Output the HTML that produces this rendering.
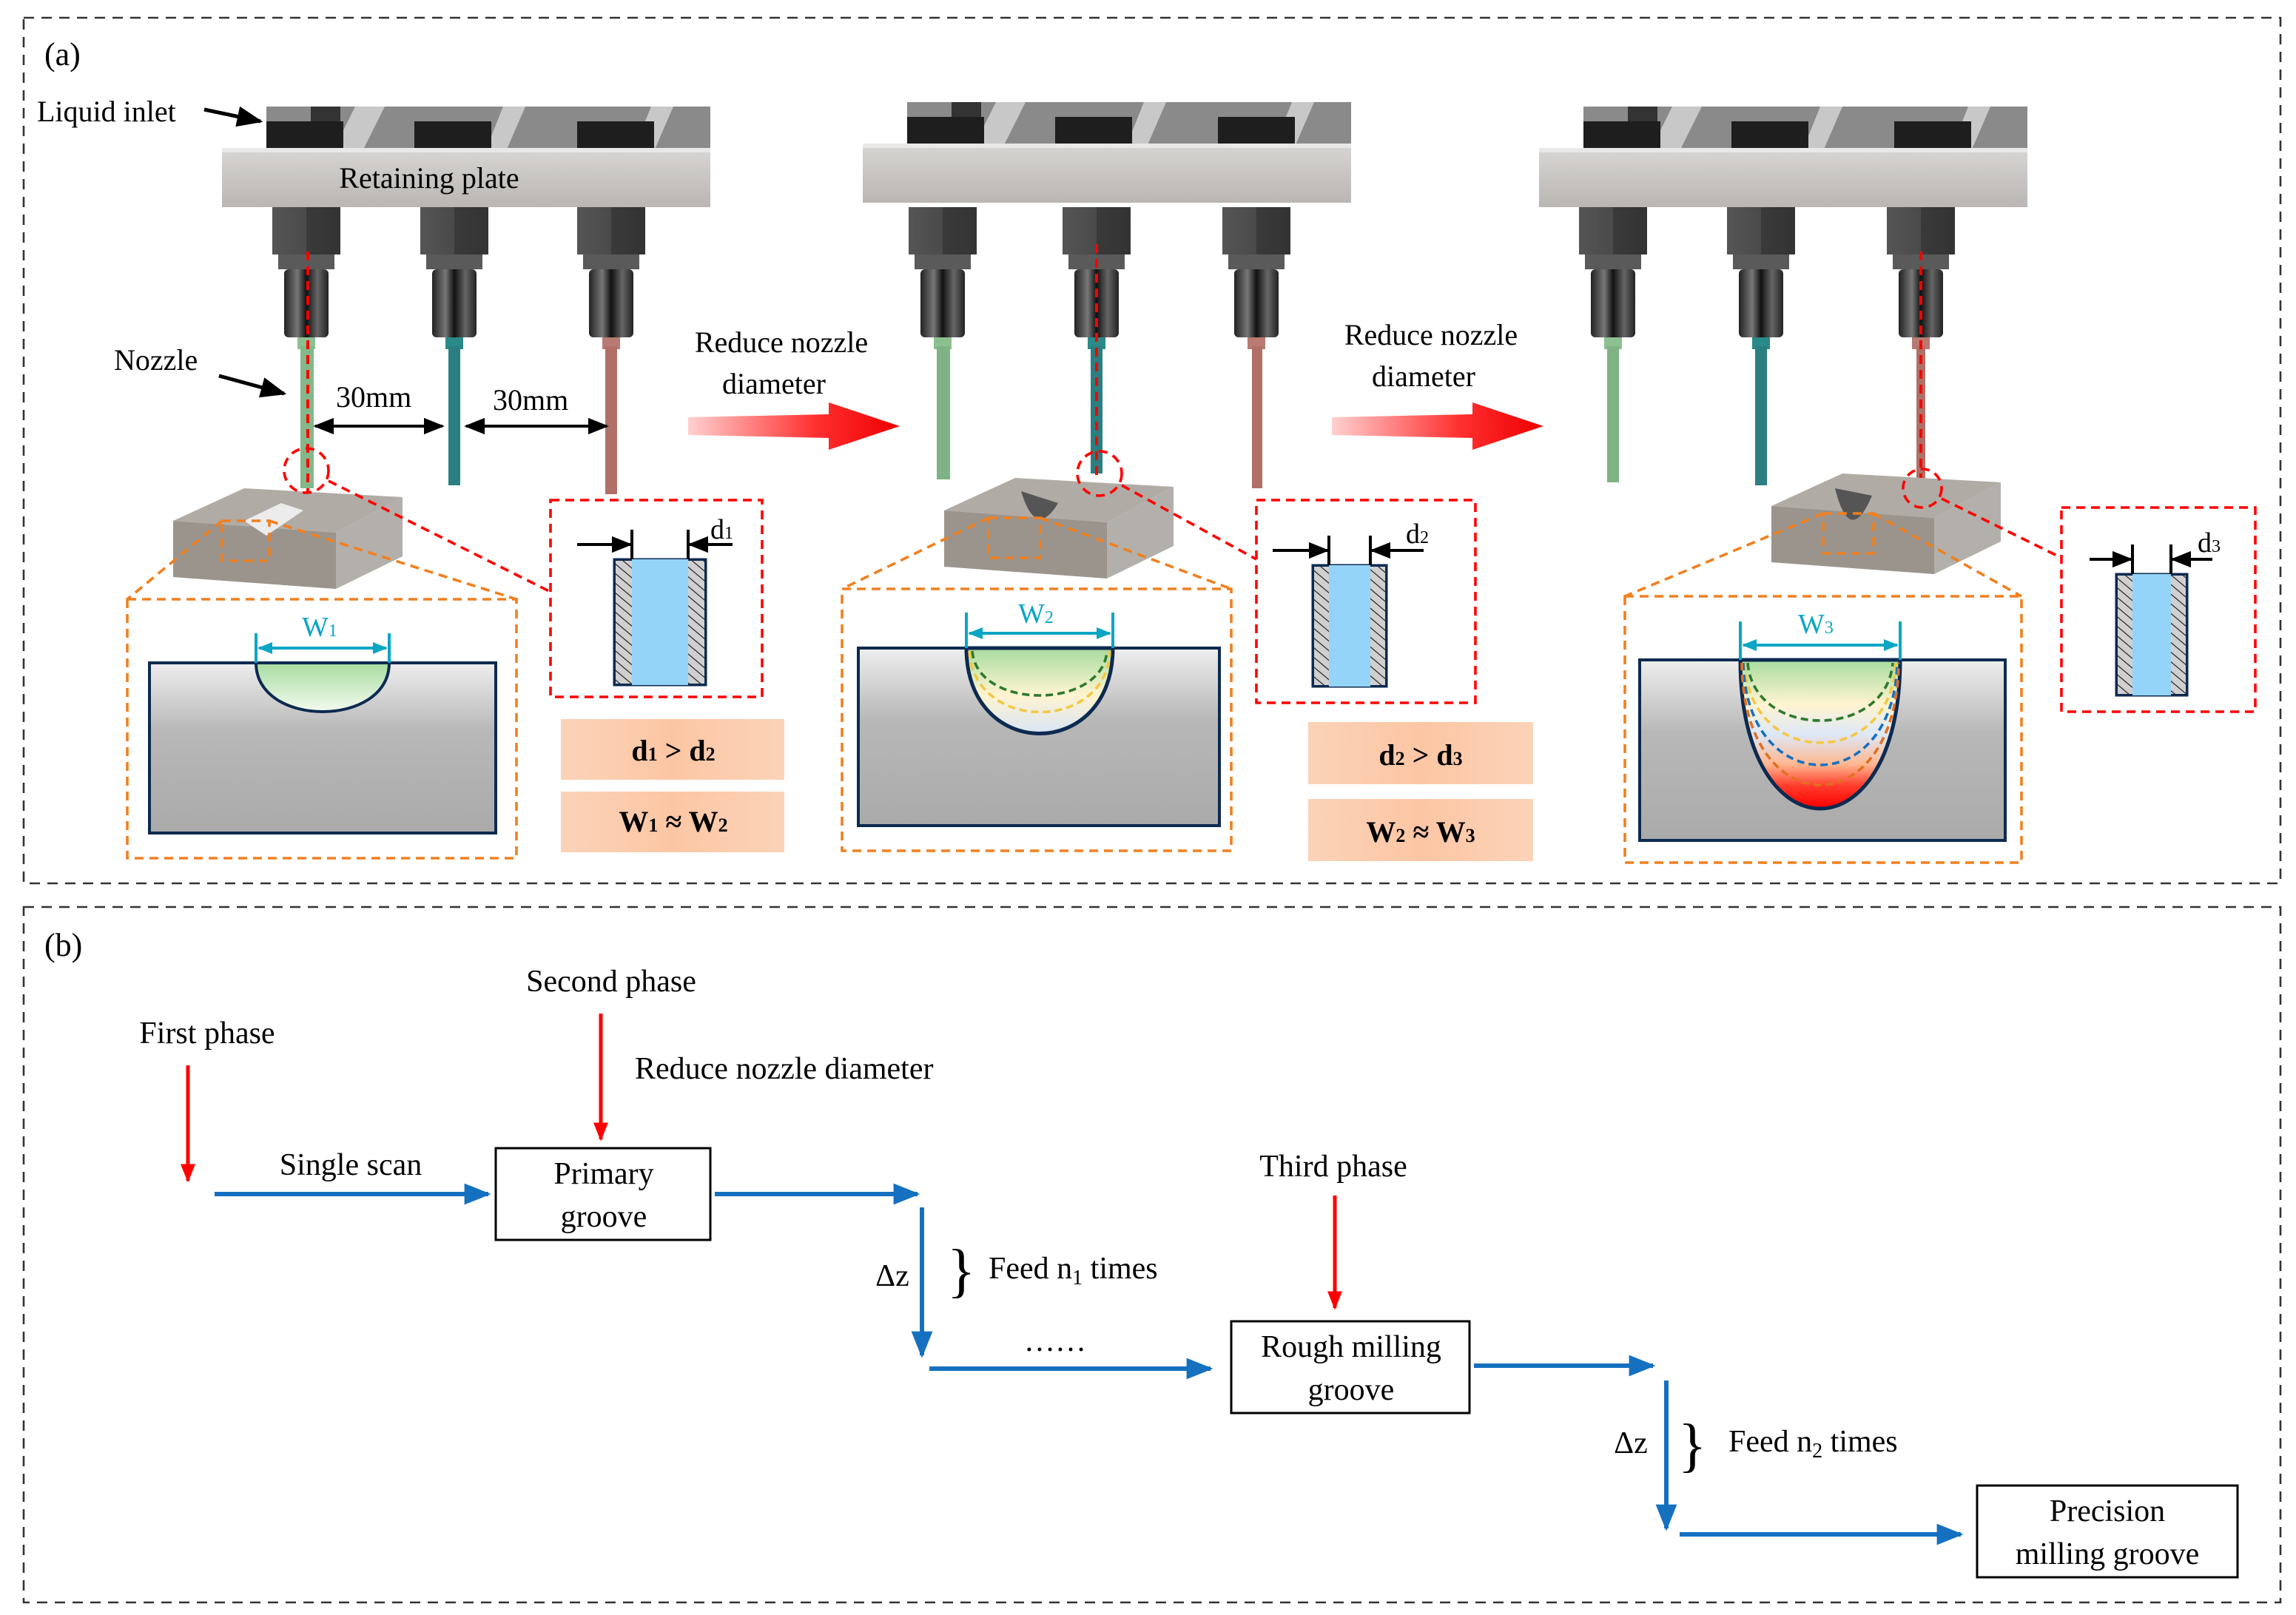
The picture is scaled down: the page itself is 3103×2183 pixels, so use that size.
<!DOCTYPE html>
<html><head><meta charset="utf-8"><style>html,body{margin:0;padding:0;background:#fff}svg{display:block}svg text{font-family:"Liberation Serif","DejaVu Serif",serif}</style></head>
<body>
<svg width="3103" height="2183" viewBox="0 0 1551.5 1091.5" xmlns="http://www.w3.org/2000/svg" style="font-family:'Liberation Serif',serif">
<defs>
<linearGradient id="plate" x1="0" y1="0" x2="0" y2="1"><stop offset="0" stop-color="#d8d6d4"/><stop offset="1" stop-color="#b9b6b3"/></linearGradient>
<linearGradient id="knurl" x1="0" y1="0" x2="1" y2="0"><stop offset="0" stop-color="#222"/><stop offset="0.3" stop-color="#777"/><stop offset="0.5" stop-color="#111"/><stop offset="0.75" stop-color="#666"/><stop offset="1" stop-color="#222"/></linearGradient>
<linearGradient id="hex" x1="0" y1="0" x2="1" y2="0"><stop offset="0" stop-color="#555"/><stop offset="0.5" stop-color="#4a4a4a"/><stop offset="0.5" stop-color="#3a3a3a"/><stop offset="1" stop-color="#333"/></linearGradient>
<linearGradient id="redarrow" x1="0" y1="0" x2="1" y2="0"><stop offset="0" stop-color="#ffd0d0"/><stop offset="0.6" stop-color="#ff3030"/><stop offset="1" stop-color="#ee0000"/></linearGradient>
<linearGradient id="graybox" x1="0" y1="0" x2="0" y2="1"><stop offset="0" stop-color="#eeeeee"/><stop offset="0.4" stop-color="#b8b8b8"/><stop offset="1" stop-color="#aaaaaa"/></linearGradient>
<linearGradient id="green" x1="0" y1="0" x2="0" y2="1"><stop offset="0" stop-color="#a8dca0"/><stop offset="1" stop-color="#f3faf0"/></linearGradient>
<linearGradient id="g3" x1="0" y1="0" x2="0" y2="1"><stop offset="0" stop-color="#a8dca0"/><stop offset="0.3" stop-color="#fff4d0"/><stop offset="0.5" stop-color="#dde8f8"/><stop offset="0.7" stop-color="#ffb890"/><stop offset="0.85" stop-color="#ff3a2a"/><stop offset="1" stop-color="#ff0000"/></linearGradient>
<linearGradient id="g2" x1="0" y1="0" x2="0" y2="1"><stop offset="0" stop-color="#a8dca0"/><stop offset="0.55" stop-color="#fff4d0"/><stop offset="1" stop-color="#d8e4f6"/></linearGradient>
<linearGradient id="peach" x1="0" y1="0" x2="1" y2="0"><stop offset="0" stop-color="#fbd3b8"/><stop offset="0.5" stop-color="#fcc6a4"/><stop offset="1" stop-color="#fbd3b8"/></linearGradient>
<pattern id="hatch" width="5" height="5" patternUnits="userSpaceOnUse" patternTransform="rotate(-50)"><rect width="5" height="5" fill="#d0d0d0"/><line x1="0" y1="0" x2="0" y2="5" stroke="#222" stroke-width="1.2"/></pattern>
<marker id="ab" viewBox="0 0 10 10" refX="9" refY="5" markerWidth="7" markerHeight="7" orient="auto-start-reverse"><path d="M0,1 L10,5 L0,9 Z" fill="#000"/></marker>
<marker id="abl" viewBox="0 0 10 10" refX="9" refY="5" markerWidth="6" markerHeight="6" orient="auto"><path d="M0,1 L10,5 L0,9 Z" fill="#1570c0"/></marker>
<marker id="ar" viewBox="0 0 10 10" refX="9" refY="5" markerWidth="5" markerHeight="6" orient="auto"><path d="M0,1 L10,5 L0,9 Z" fill="#f00"/></marker>
<marker id="ac" viewBox="0 0 10 10" refX="9" refY="5" markerWidth="5" markerHeight="5" orient="auto-start-reverse"><path d="M0,1 L10,5 L0,9 Z" fill="#0aa6c4"/></marker>
<g id="noz">
<rect x="-23" y="140" width="46" height="32" fill="url(#hex)"/>
<rect x="-19" y="172" width="38" height="10" fill="#5a5a5a"/>
<rect x="-15" y="182" width="30" height="46" fill="url(#knurl)" rx="3"/>
</g>
<g id="top">
<rect x="30" y="72" width="300" height="30" fill="#8a8a8a"/>
<path d="M90,72 L110,72 L95,102 L75,102Z M190,72 L205,72 L192,102 L178,102Z M290,72 L305,72 L292,102 L278,102Z" fill="#c8c8c8"/>
<rect x="30" y="82" width="52" height="20" fill="#1e1e1e"/>
<rect x="60" y="72" width="20" height="10" fill="#333"/>
<rect x="130" y="82" width="52" height="20" fill="#1e1e1e"/>
<rect x="240" y="82" width="52" height="20" fill="#1e1e1e"/>
<rect x="0" y="100" width="330" height="40" fill="url(#plate)"/>
<rect x="0" y="100" width="330" height="3" fill="#e8e8e8"/>
</g>
<g id="block">
<path d="M0,22 L48,0 L155,6 L110,30 Z" fill="#b0aba5"/>
<path d="M0,22 L110,30 L110,68 L0,60 Z" fill="#9a948d"/>
<path d="M110,30 L155,6 L155,46 L110,68 Z" fill="#b3afaa"/>
</g>
</defs>
<rect width="1551.5" height="1091.5" fill="#fff"/>
<rect x="16" y="12" width="1525" height="585" fill="none" stroke="#333" stroke-width="1.3" stroke-dasharray="7,5"/>
<rect x="16" y="613" width="1525" height="470" fill="none" stroke="#333" stroke-width="1.3" stroke-dasharray="7,5"/>
<text x="30" y="44" font-size="22">(a)</text>
<text x="30" y="646" font-size="22">(b)</text>

<use href="#top" x="150"/>
<use href="#top" x="583" transform="translate(0,-3)"/>
<use href="#top" x="1040"/>
<use href="#noz" x="207"/><use href="#noz" x="307"/><use href="#noz" x="413"/>
<use href="#noz" x="637"/><use href="#noz" x="741"/><use href="#noz" x="849"/>
<use href="#noz" x="1090"/><use href="#noz" x="1190"/><use href="#noz" x="1298"/>
<g>
<rect x="201" y="228" width="12" height="8" fill="#8cc090"/><rect x="203" y="234" width="9" height="96" fill="#84b88a"/>
<rect x="301" y="228" width="12" height="8" fill="#2a8a8a"/><rect x="303" y="234" width="8" height="94" fill="#2b7f80"/>
<rect x="407" y="228" width="12" height="8" fill="#b87a72"/><rect x="409" y="234" width="8" height="100" fill="#b07068"/>
<rect x="631" y="228" width="12" height="8" fill="#8cc090"/><rect x="633" y="234" width="9" height="90" fill="#7fb285"/>
<rect x="735" y="228" width="12" height="8" fill="#2a8a8a"/><rect x="737" y="234" width="8" height="86" fill="#2b7f80"/>
<rect x="843" y="228" width="12" height="8" fill="#b87a72"/><rect x="846" y="234" width="7" height="96" fill="#b07068"/>
<rect x="1084" y="228" width="12" height="8" fill="#8cc090"/><rect x="1086" y="234" width="8" height="92" fill="#7fb285"/>
<rect x="1184" y="228" width="12" height="8" fill="#2a8a8a"/><rect x="1186" y="234" width="8" height="94" fill="#2b7f80"/>
<rect x="1292" y="228" width="12" height="8" fill="#b87a72"/><rect x="1295" y="234" width="6" height="92" fill="#b07068"/>
</g>
<g stroke="#f00" stroke-width="2" stroke-dasharray="6,4" fill="none">
<line x1="208" y1="170" x2="208" y2="335"/>
<line x1="741" y1="165" x2="741" y2="325"/>
<line x1="1298" y1="170" x2="1298" y2="335"/>
</g>
<text x="290" y="127" font-size="20" text-anchor="middle">Retaining plate</text>
<text x="25" y="82" font-size="20">Liquid inlet</text>
<line x1="138" y1="74" x2="176" y2="82" stroke="#000" stroke-width="2.5" marker-end="url(#ab)"/>
<text x="77" y="250" font-size="20">Nozzle</text>
<line x1="148" y1="254" x2="192" y2="266" stroke="#000" stroke-width="2.5" marker-end="url(#ab)"/>
<text x="227" y="275" font-size="20">30mm</text>
<text x="333" y="277" font-size="20">30mm</text>
<line x1="213" y1="288" x2="299" y2="288" stroke="#000" stroke-width="2" marker-start="url(#ab)" marker-end="url(#ab)"/>
<line x1="315" y1="288" x2="410" y2="288" stroke="#000" stroke-width="2" marker-start="url(#ab)" marker-end="url(#ab)"/>

<text x="528" y="238" font-size="20" text-anchor="middle">Reduce nozzle</text>
<text x="523" y="266" font-size="20" text-anchor="middle">diameter</text>
<path d="M465,282 L560,280 L560,272 L608,288 L560,304 L560,296 L465,294 Z" fill="url(#redarrow)"/>
<text x="967" y="233" font-size="20" text-anchor="middle">Reduce nozzle</text>
<text x="962" y="261" font-size="20" text-anchor="middle">diameter</text>
<path d="M900,282 L995,280 L995,272 L1043,288 L995,304 L995,296 L900,294 Z" fill="url(#redarrow)"/>

<use href="#block" x="117" y="330"/>
<use href="#block" x="638" y="323"/>
<use href="#block" x="1197" y="320"/>
<path d="M165,352 L190,340 L205,345 L180,362Z" fill="#ececec"/>
<path d="M690,332 Q700,365 715,340Z" fill="#555"/>
<path d="M1240,330 Q1250,370 1265,335Z" fill="#555"/>

<g fill="none" stroke="#f08020" stroke-width="1.8" stroke-dasharray="6,4">
<rect x="150" y="352" width="32" height="27"/>
<rect x="668" y="350" width="35" height="27"/>
<rect x="1232" y="347" width="34" height="27"/>
<line x1="150" y1="352" x2="86" y2="405"/><line x1="182" y1="352" x2="349" y2="405"/>
<line x1="668" y1="350" x2="569" y2="398"/><line x1="703" y1="350" x2="832" y2="398"/>
<line x1="1232" y1="347" x2="1098" y2="403"/><line x1="1266" y1="347" x2="1366" y2="403"/>
<rect x="86" y="405" width="263" height="175"/>
<rect x="569" y="398" width="263" height="177"/>
<rect x="1098" y="403" width="268" height="180"/>
</g>
<g fill="none" stroke="#f00" stroke-width="1.8" stroke-dasharray="6,4">
<circle cx="207" cy="318" r="15"/><circle cx="743" cy="320" r="15"/><circle cx="1299" cy="330" r="13"/>
<line x1="222" y1="325" x2="372" y2="400"/><line x1="758" y1="328" x2="849" y2="378"/><line x1="1312" y1="337" x2="1393" y2="377"/>
<rect x="372" y="338" width="143" height="133"/>
<rect x="849" y="338" width="148" height="137"/>
<rect x="1393" y="343" width="131" height="138"/>
</g>
<g stroke="#0d2a50" stroke-width="1.5">
<rect x="415" y="378" width="62" height="85" fill="#0d2a50"/>
<rect x="416" y="379" width="11" height="83" fill="url(#hatch)" stroke="none"/><rect x="465" y="379" width="11" height="83" fill="url(#hatch)" stroke="none"/>
<rect x="427" y="378" width="38" height="85" fill="#94d4f8" stroke="none"/>
<rect x="887" y="382" width="50" height="82" fill="#0d2a50"/>
<rect x="888" y="383" width="10" height="80" fill="url(#hatch)" stroke="none"/><rect x="926" y="383" width="10" height="80" fill="url(#hatch)" stroke="none"/>
<rect x="898" y="382" width="28" height="82" fill="#94d4f8" stroke="none"/>
<rect x="1430" y="388" width="48" height="82" fill="#0d2a50"/>
<rect x="1431" y="389" width="10" height="80" fill="url(#hatch)" stroke="none"/><rect x="1467" y="389" width="10" height="80" fill="url(#hatch)" stroke="none"/>
<rect x="1441" y="388" width="26" height="82" fill="#94d4f8" stroke="none"/>
</g>
<g stroke="#000" stroke-width="2">
<line x1="427" y1="358" x2="427" y2="378"/><line x1="465" y1="358" x2="465" y2="378"/>
<line x1="390" y1="368" x2="426" y2="368" marker-end="url(#ab)"/><line x1="495" y1="368" x2="466" y2="368" marker-end="url(#ab)"/>
<line x1="898" y1="362" x2="898" y2="382"/><line x1="926" y1="362" x2="926" y2="382"/>
<line x1="860" y1="372" x2="897" y2="372" marker-end="url(#ab)"/><line x1="962" y1="372" x2="927" y2="372" marker-end="url(#ab)"/>
<line x1="1441" y1="368" x2="1441" y2="388"/><line x1="1467" y1="368" x2="1467" y2="388"/>
<line x1="1412" y1="378" x2="1440" y2="378" marker-end="url(#ab)"/><line x1="1495" y1="378" x2="1468" y2="378" marker-end="url(#ab)"/>
</g>
<text x="480" y="364" font-size="19">d<tspan font-size="12">1</tspan></text>
<text x="950" y="367" font-size="19">d<tspan font-size="12">2</tspan></text>
<text x="1485" y="373" font-size="19">d<tspan font-size="12">3</tspan></text>

<rect x="379" y="486" width="151" height="41" fill="url(#peach)"/>
<rect x="379" y="535" width="151" height="41" fill="url(#peach)"/>
<rect x="884" y="488" width="152" height="42" fill="url(#peach)"/>
<rect x="884" y="540" width="152" height="42" fill="url(#peach)"/>
<g font-size="20" font-weight="bold" text-anchor="middle">
<text x="455" y="514">d<tspan font-size="13">1</tspan> &gt; d<tspan font-size="13">2</tspan></text>
<text x="455" y="562">W<tspan font-size="13">1</tspan> ≈ W<tspan font-size="13">2</tspan></text>
<text x="960" y="517">d<tspan font-size="13">2</tspan> &gt; d<tspan font-size="13">3</tspan></text>
<text x="960" y="569">W<tspan font-size="13">2</tspan> ≈ W<tspan font-size="13">3</tspan></text>
</g>

<rect x="101" y="448" width="234" height="115" fill="url(#graybox)" stroke="#0d2a50" stroke-width="2"/>
<path d="M173,448 C173,492 263,492 263,448 Z" fill="url(#green)" stroke="#0d2a50" stroke-width="2"/>
<rect x="580" y="438" width="244" height="120" fill="url(#graybox)" stroke="#0d2a50" stroke-width="2"/>
<path d="M653,438 C653,515 752,515 752,438 Z" fill="url(#g2)" stroke="#0d2a50" stroke-width="2.5"/>
<path d="M657,440 C660,480 745,480 748,440" fill="none" stroke="#2d7a2d" stroke-width="1.8" stroke-dasharray="5,3"/>
<path d="M655,440 C658,495 748,495 750,440" fill="none" stroke="#f5c842" stroke-width="1.8" stroke-dasharray="5,3"/>
<rect x="1108" y="446" width="247" height="122" fill="url(#graybox)" stroke="#0d2a50" stroke-width="2"/>
<path d="M1176,446 C1176,580 1284,580 1284,446 Z" fill="url(#g3)" stroke="#0d2a50" stroke-width="2.5"/>
<g fill="none" stroke-width="1.8" stroke-dasharray="5,3">
<path d="M1181,448 C1185,500 1275,500 1279,448" stroke="#2d7a2d"/>
<path d="M1179,448 C1182,520 1278,520 1281,448" stroke="#f5c842"/>
<path d="M1178,448 C1180,540 1280,540 1282,448" stroke="#1570c0"/>
<path d="M1177,448 C1178,558 1282,558 1283,448" stroke="#e07020"/>
</g>
<g stroke="#0aa6c4" stroke-width="2">
<line x1="173" y1="428" x2="173" y2="448"/><line x1="263" y1="428" x2="263" y2="448"/>
<line x1="175" y1="438" x2="261" y2="438" marker-start="url(#ac)" marker-end="url(#ac)"/>
<line x1="653" y1="414" x2="653" y2="438"/><line x1="752" y1="414" x2="752" y2="438"/>
<line x1="655" y1="428" x2="750" y2="428" marker-start="url(#ac)" marker-end="url(#ac)"/>
<line x1="1176" y1="420" x2="1176" y2="446"/><line x1="1284" y1="420" x2="1284" y2="446"/>
<line x1="1178" y1="436" x2="1282" y2="436" marker-start="url(#ac)" marker-end="url(#ac)"/>
</g>
<g fill="#0aa6c4" font-size="19">
<text x="204" y="430">W<tspan font-size="12">1</tspan></text>
<text x="688" y="421">W<tspan font-size="12">2</tspan></text>
<text x="1215" y="428">W<tspan font-size="12">3</tspan></text>
</g>

<g font-size="21">
<text x="140" y="705" text-anchor="middle">First phase</text>
<text x="413" y="670" text-anchor="middle">Second phase</text>
<text x="429" y="729">Reduce  nozzle diameter</text>
<text x="237" y="794" text-anchor="middle">Single scan</text>
<text x="901" y="795" text-anchor="middle">Third phase</text>
<text x="603" y="869" text-anchor="middle">Δz</text>
<text x="668" y="864">Feed n<tspan font-size="14" dy="4">1</tspan><tspan dy="-4"> times</tspan></text>
<text x="713" y="913" text-anchor="middle">……</text>
<text x="1102" y="982" text-anchor="middle">Δz</text>
<text x="1168" y="981">Feed n<tspan font-size="14" dy="4">2</tspan><tspan dy="-4"> times</tspan></text>
<text x="408" y="800" text-anchor="middle">Primary</text>
<text x="408" y="829" text-anchor="middle">groove</text>
<text x="913" y="917" text-anchor="middle">Rough milling</text>
<text x="913" y="946" text-anchor="middle">groove</text>
<text x="1424" y="1028" text-anchor="middle">Precision</text>
<text x="1424" y="1057" text-anchor="middle">milling groove</text>
</g>
<text x="640" y="872" font-size="40">}</text>
<text x="1134" y="990" font-size="40">}</text>
<g fill="none" stroke="#000" stroke-width="1.5">
<rect x="335" y="776" width="145" height="62"/>
<rect x="832" y="893" width="161" height="62"/>
<rect x="1336" y="1004" width="176" height="62"/>
</g>
<g stroke="#f00" stroke-width="2.5">
<line x1="127" y1="720" x2="127" y2="798" marker-end="url(#ar)"/>
<line x1="406" y1="685" x2="406" y2="770" marker-end="url(#ar)"/>
<line x1="902" y1="808" x2="902" y2="884" marker-end="url(#ar)"/>
</g>
<g stroke="#1570c0" stroke-width="3">
<line x1="145" y1="807" x2="330" y2="807" marker-end="url(#abl)"/>
<line x1="483" y1="807" x2="620" y2="807" marker-end="url(#abl)"/>
<line x1="623" y1="816" x2="623" y2="916" marker-end="url(#abl)"/>
<line x1="628" y1="925" x2="818" y2="925" marker-end="url(#abl)"/>
<line x1="996" y1="923" x2="1117" y2="923" marker-end="url(#abl)"/>
<line x1="1126" y1="933" x2="1126" y2="1033" marker-end="url(#abl)"/>
<line x1="1135" y1="1037" x2="1325" y2="1037" marker-end="url(#abl)"/>
</g>
</svg>
</body></html>
